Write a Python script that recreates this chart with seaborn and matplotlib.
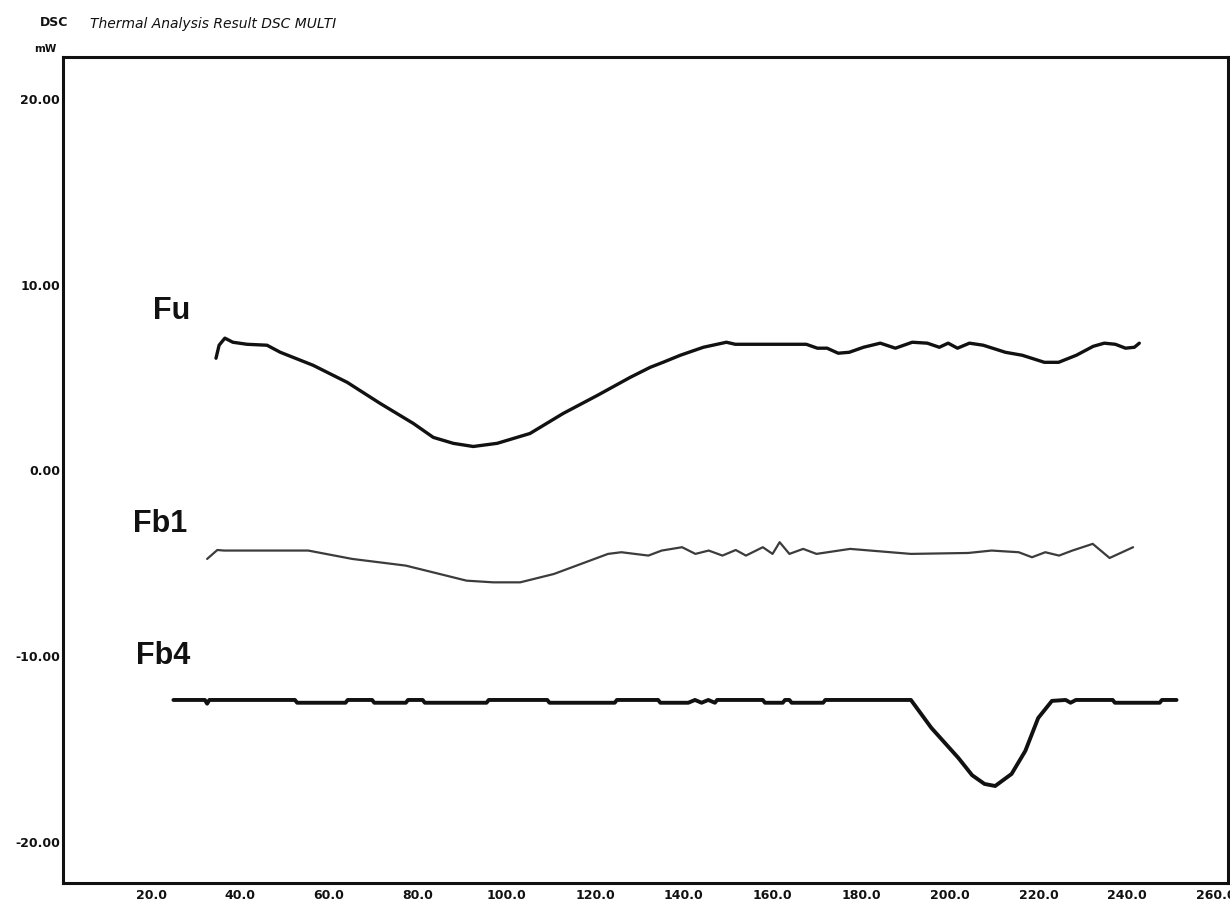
import numpy as np
import pandas as pd
import matplotlib
matplotlib.use("Agg")
import matplotlib.pyplot as plt
import seaborn as sns
from matplotlib.ticker import MultipleLocator, FixedLocator, FuncFormatter

# ---------------- data ----------------
fu_x = [34.5, 35.2, 36.5, 38.3, 41.5, 46.0, 49.0, 56.4, 64.1, 71.5, 79.0, 83.5, 88.0,
        92.5, 97.9, 105.3, 112.8, 120.5, 127.9, 132.4, 135.3, 139.2, 144.4, 149.6,
        151.6, 167.6, 170.1, 172.3, 174.8, 177.3, 180.5, 184.3, 187.7, 191.5, 194.9,
        197.6, 199.6, 201.7, 204.4, 207.5, 212.5, 216.3, 221.3, 224.5, 228.5, 232.3,
        234.8, 237.3, 239.6, 241.6, 242.7]
fu_y = [6.04, 6.74, 7.12, 6.90, 6.79, 6.74, 6.36, 5.66, 4.74, 3.61, 2.53, 1.78, 1.46,
        1.29, 1.46, 1.99, 3.07, 4.04, 5.01, 5.55, 5.82, 6.20, 6.63, 6.90,
        6.79, 6.79, 6.58, 6.58, 6.31, 6.36, 6.63, 6.85, 6.58, 6.90, 6.85,
        6.63, 6.85, 6.58, 6.85, 6.74, 6.36, 6.20, 5.82, 5.82, 6.20, 6.68,
        6.85, 6.79, 6.58, 6.63, 6.85]

fb1_x = [32.5, 34.8, 36.3, 55.3, 65.2, 77.3, 83.4, 91.0, 97.0, 103.1, 110.7, 116.8,
         122.9, 125.9, 132.0, 135.0, 139.6, 142.6, 145.6, 148.7, 151.7, 154.0, 157.8,
         160.0, 161.6, 163.8, 166.9, 169.9, 177.5, 186.6, 191.2, 204.1, 209.4, 215.5,
         218.5, 221.5, 224.6, 227.6, 232.2, 236.0, 241.3]
fb1_y = [-4.76, -4.28, -4.31, -4.31, -4.76, -5.12, -5.48, -5.93, -6.02, -6.02, -5.57,
         -5.03, -4.49, -4.40, -4.58, -4.31, -4.13, -4.49, -4.31, -4.58, -4.28, -4.58,
         -4.13, -4.49, -3.86, -4.49, -4.22, -4.49, -4.22, -4.40, -4.49, -4.44, -4.31,
         -4.40, -4.67, -4.40, -4.58, -4.31, -3.95, -4.71, -4.13]

fb4_x = [24.9, 32.0, 32.5, 33.0, 52.3, 52.8, 63.7, 64.2, 69.7, 70.2, 77.3, 77.8, 81.1,
         81.6, 95.5, 96.0, 109.2, 109.7, 124.4, 124.9, 134.2, 134.7, 141.0, 142.5,
         144.0, 145.5, 147.0, 147.5, 157.8, 158.3, 162.3, 162.8, 163.8, 164.3, 171.4,
         171.9, 191.2, 195.8, 201.9, 205.0, 207.8, 210.2, 213.9, 217.0, 219.9, 223.0,
         226.1, 227.2, 228.4, 236.7, 237.2, 247.3, 247.8, 251.1]
fb4_y = [-12.35, -12.35, -12.55, -12.35, -12.35, -12.5, -12.5, -12.35, -12.35, -12.5,
         -12.5, -12.35, -12.35, -12.5, -12.5, -12.35, -12.35, -12.5, -12.5, -12.35,
         -12.35, -12.5, -12.5, -12.35, -12.5, -12.35, -12.5, -12.35, -12.35, -12.5,
         -12.5, -12.35, -12.35, -12.5, -12.5, -12.35, -12.35, -13.85, -15.47, -16.4,
         -16.87, -16.98, -16.33, -15.09, -13.32, -12.40, -12.35, -12.5, -12.35,
         -12.35, -12.5, -12.5, -12.35, -12.35]

series_names = ["Fu", "Fb1", "Fb4"]
label_x = [24.4, 21.9, 22.6]
label_y = [8.6, -2.9, -10.0]

x_major = [20, 40, 60, 80, 100, 120, 140, 160, 180, 200, 220, 240, 260]
y_major = [20, 10, 0, -10, -20]

# ---------------- figure ----------------
sns.set_theme(style="white")
plt.rcParams["font.family"] = ["DejaVu Sans"]

fig = plt.figure(figsize=(12.3, 9.1), dpi=100)
ax = fig.add_axes([63 / 1230, 1 - 883 / 910, (1228 - 63) / 1230, (883 - 57) / 910])

df = pd.concat([
    pd.DataFrame({"T": fu_x, "DSC": fu_y, "s": "Fu"}),
    pd.DataFrame({"T": fb1_x, "DSC": fb1_y, "s": "Fb1"}),
    pd.DataFrame({"T": fb4_x, "DSC": fb4_y, "s": "Fb4"}),
])

styles = {"Fu": ("#111111", 2.4), "Fb1": ("#3c3c3c", 1.6), "Fb4": ("#111111", 2.8)}
for name in series_names:
    col, lw = styles[name]
    sns.lineplot(data=df[df["s"] == name], x="T", y="DSC", ax=ax, color=col,
                 linewidth=lw, estimator=None, sort=False, legend=False)

ax.set_xlim(0, 262.7)
ax.set_ylim(-22.2, 22.25)
ax.set_xlabel("")
ax.set_ylabel("")

ax.xaxis.set_major_locator(FixedLocator(x_major))
ax.xaxis.set_minor_locator(MultipleLocator(10))
ax.yaxis.set_major_locator(FixedLocator(y_major))
ax.yaxis.set_minor_locator(MultipleLocator(5))
ax.xaxis.set_major_formatter(FuncFormatter(lambda v, p: f"{v:.1f}"))
ax.yaxis.set_major_formatter(FuncFormatter(lambda v, p: f"{v:.2f}"))

ax.tick_params(axis="both", which="major", direction="in", length=6, width=1.6,
               color="#111111", labelsize=9, labelcolor="#111111")
ax.tick_params(axis="both", which="minor", direction="in", length=3, width=1.6,
               color="#111111")
ax.tick_params(axis="x", which="major", pad=4)
ax.tick_params(axis="y", which="major", pad=2)
for lab in ax.get_xticklabels() + ax.get_yticklabels():
    lab.set_fontweight("bold")

for sp in ax.spines.values():
    sp.set_visible(True)
    sp.set_color("#111111")
    sp.set_linewidth(2.2)

for name, lx, ly in zip(series_names, label_x, label_y):
    ax.text(lx, ly, name, ha="center", va="center", fontsize=22, fontweight="bold",
            family=["Liberation Sans", "DejaVu Sans"], color="#111111")

fig.text(54 / 1230, 1 - 22 / 910, "DSC", ha="center", va="center", fontsize=9,
         fontweight="bold", color="#111111")
fig.text(45 / 1230, 1 - 49 / 910, "mW", ha="center", va="center", fontsize=7.5,
         fontweight="bold", color="#111111")
fig.text(90 / 1230, 1 - 24 / 910, "Thermal Analysis Result DSC MULTI", ha="left",
         va="center", fontsize=10, fontstyle="italic", color="#111111")

fig.savefig("out.png", dpi=100, facecolor="white")
